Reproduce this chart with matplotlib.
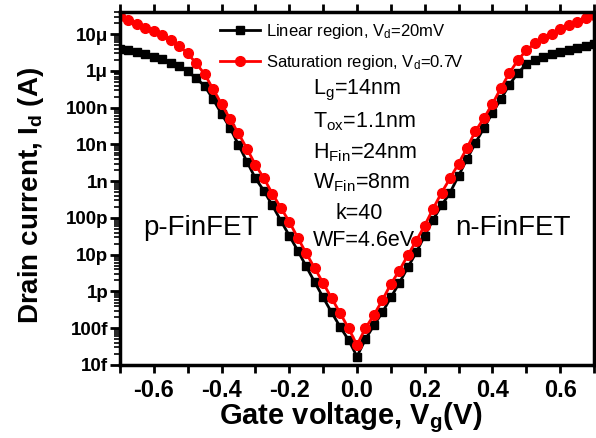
import matplotlib
matplotlib.use("Agg")
import matplotlib.pyplot as plt
import matplotlib.ticker as ticker

plt.rcParams['font.family'] = ['Liberation Sans', 'DejaVu Sans']
plt.rcParams['mathtext.fontset'] = 'custom'
plt.rcParams['mathtext.rm'] = 'Liberation Sans'
plt.rcParams['mathtext.it'] = 'Liberation Sans'
plt.rcParams['mathtext.bf'] = 'Liberation Sans:bold'

# gate voltage sweep (V)
vg = [-0.7, -0.675, -0.65, -0.625, -0.6, -0.575, -0.55, -0.525, -0.5, -0.475,
      -0.45, -0.425, -0.4, -0.375, -0.35, -0.325, -0.3, -0.275, -0.25, -0.225,
      -0.2, -0.175, -0.15, -0.125, -0.1, -0.075, -0.05, -0.025, 0.0,
      0.025, 0.05, 0.075, 0.1, 0.125, 0.15, 0.175, 0.2, 0.225, 0.25,
      0.275, 0.3, 0.325, 0.35, 0.375, 0.4, 0.425, 0.45, 0.475, 0.5,
      0.525, 0.55, 0.575, 0.6, 0.625, 0.65, 0.675, 0.7]

# linear region, Vd = 20 mV
id_lin = [3.9e-6, 3.6e-6, 3.2e-6, 2.9e-6, 2.4e-6, 2.1e-6, 1.6e-6, 1.35e-6, 9.8e-7, 6.3e-7,
          3.9e-7, 1.7e-7, 6.8e-8, 2.8e-8, 9.8e-9, 3.4e-9, 1.2e-9, 5.5e-10, 2.2e-10, 8.5e-11,
          3.3e-11, 1.3e-11, 4.8e-12, 1.8e-12, 6.9e-13, 2.7e-13, 1.1e-13, 4.8e-14, 1.7e-14,
          5.0e-14, 1.2e-13, 2.7e-13, 6.9e-13, 1.7e-12, 4.5e-12, 1.15e-11, 3.3e-11, 9.0e-11, 2.2e-10,
          4.9e-10, 1.4e-9, 4.0e-9, 1.1e-8, 2.8e-8, 7.2e-8, 1.7e-7, 4.2e-7, 8.7e-7, 1.5e-6,
          1.95e-6, 2.4e-6, 2.9e-6, 3.2e-6, 3.6e-6, 4.2e-6, 4.7e-6, 5.4e-6]

# saturation region, Vd = 0.7 V
id_sat = [3.2e-5, 2.4e-5, 1.9e-5, 1.45e-5, 1.2e-5, 9.3e-6, 6.8e-6, 4.7e-6, 3.0e-6, 1.6e-6,
          8.2e-7, 3.2e-7, 1.26e-7, 4.9e-8, 2.0e-8, 7.6e-9, 2.8e-9, 1.2e-9, 4.6e-10, 1.9e-10,
          7.9e-11, 2.9e-11, 1.1e-11, 4.3e-12, 1.7e-12, 6.6e-13, 2.6e-13, 1.0e-13, 3.5e-14,
          1.0e-13, 2.3e-13, 5.8e-13, 1.6e-12, 3.7e-12, 9.6e-12, 2.4e-11, 6.2e-11, 1.8e-10, 4.9e-10,
          1.2e-9, 3.0e-9, 8.1e-9, 2.3e-8, 5.2e-8, 1.26e-7, 3.4e-7, 8.7e-7, 1.95e-6, 3.6e-6,
          5.6e-6, 7.7e-6, 1.0e-5, 1.35e-5, 1.74e-5, 2.2e-5, 2.7e-5, 3.3e-5]

ytick_vals = [1e-14, 1e-13, 1e-12, 1e-11, 1e-10, 1e-9, 1e-8, 1e-7, 1e-6, 1e-5]
ytick_labels = ['10f', '100f', '1p', '10p', '100p', '1n', '10n', '100n', '1μ', '10μ']
xtick_vals = [-0.6, -0.4, -0.2, 0.0, 0.2, 0.4, 0.6]
xtick_labels = ['-0.6', '-0.4', '-0.2', '0.0', '0.2', '0.4', '0.6']

params = [r'L$_\mathrm{g}$=14nm', r'T$_\mathrm{ox}$=1.1nm', r'H$_\mathrm{Fin}$=24nm',
          r'W$_\mathrm{Fin}$=8nm', 'k=40', 'WF=4.6eV']

fig = plt.figure(figsize=(5.96, 4.38), dpi=100)
ax = fig.add_axes([0.2013, 0.1667, 0.7953, 0.8059])

ax.plot(vg, id_lin, color='black', marker='s', markersize=6, linewidth=2,
        label=r'Linear region, V$_\mathrm{d}$=20mV')
ax.plot(vg, id_sat, color='red', marker='o', markersize=7, linewidth=2,
        label=r'Saturation region, V$_\mathrm{d}$=0.7V')

ax.set_yscale('log')
ax.set_xlim(-0.7, 0.7)
ax.set_ylim(1e-14, 4e-5)

ax.yaxis.set_major_locator(ticker.FixedLocator(ytick_vals))
ax.yaxis.set_major_formatter(ticker.FixedFormatter(ytick_labels))
ax.yaxis.set_minor_locator(ticker.LogLocator(base=10, subs=range(2, 10), numticks=30))
ax.yaxis.set_minor_formatter(ticker.NullFormatter())
ax.set_xticks(xtick_vals)
ax.set_xticklabels(xtick_labels)
ax.xaxis.set_minor_locator(ticker.MultipleLocator(0.1))

for lab in ax.get_yticklabels():
    lab.set_fontweight('bold')
for lab in ax.get_xticklabels():
    lab.set_fontweight('bold')
ax.tick_params(axis='y', which='major', direction='out', length=7, width=2, labelsize=13.5, pad=1.5)
ax.tick_params(axis='y', which='minor', direction='out', length=4, width=1.2)
ax.tick_params(axis='x', which='major', direction='out', length=6, width=2, labelsize=17, pad=4)
ax.tick_params(axis='x', which='minor', direction='out', length=6, width=2)
ax.tick_params(axis='x', which='both', top=True, labeltop=False)

for sp in ax.spines.values():
    sp.set_linewidth(2.5)

ax.set_xlabel(r'Gate voltage, $\mathbf{V_g}$(V)', fontsize=21, fontweight='bold')
ax.xaxis.set_label_coords(0.487, -0.1)
ax.set_ylabel(r'Drain current, $\mathbf{I_d}$ (A)', fontsize=20, fontweight='bold')
ax.yaxis.set_label_coords(-0.157, 0.479)

ax.legend(loc='upper left', bbox_to_anchor=(0.18, 1.015), frameon=False, fontsize=12,
          handlelength=2.4, handletextpad=0.35, labelspacing=0.75)

param_y = [0.778, 0.690, 0.601, 0.516, 0.430, 0.354]
param_x = [0.407, 0.407, 0.407, 0.407, 0.455, 0.407]
for txt, px, py in zip(params, param_x, param_y):
    ax.text(px, py, txt, transform=ax.transAxes, fontsize=15.5, va='center', ha='left')

ax.text(0.049, 0.388, 'p-FinFET', transform=ax.transAxes, fontsize=20, va='center')
ax.text(0.707, 0.388, 'n-FinFET', transform=ax.transAxes, fontsize=20, va='center')

fig.savefig('out.png', dpi=100)
